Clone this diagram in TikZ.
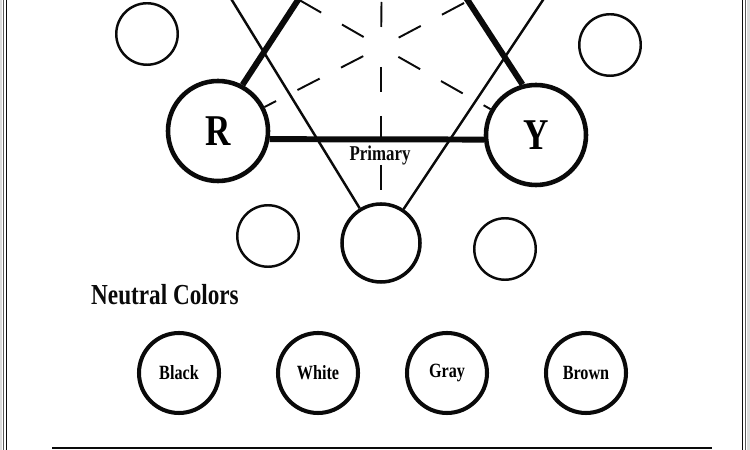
\documentclass[tikz,border=0pt]{standalone}
\usepackage{fontspec}
\usetikzlibrary{positioning,calc}
\newfontfamily\wheelfont{Liberation Serif}[FakeStretch=0.8]
\definecolor{cwInk}{HTML}{0a0a0a}
\definecolor{cwFrame}{HTML}{dcdcdc}
\definecolor{cwRule}{HTML}{5a5a5a}
\tikzset{
  x=0.2mm, y=-0.2mm,
  primary/.style={circle, draw=cwInk, line width=2.6pt, minimum size=20mm,
              inner sep=0pt, font=\wheelfont\bfseries\fontsize{25}{25}\selectfont},
  secondary/.style={circle, draw=cwInk, line width=2pt, minimum size=15.6mm, inner sep=0pt},
  tertiary/.style={circle, draw=cwInk, line width=1.4pt, minimum size=12.3mm, inner sep=0pt},
  neutral/.style={circle, draw=cwInk, line width=2.3pt, minimum size=16mm,
              inner sep=0pt, font=\wheelfont\bfseries\fontsize{11.5}{11.5}\selectfont},
  lbl/.style={font=\wheelfont\bfseries\fontsize{12}{12}\selectfont, text=cwInk},
  head/.style={font=\wheelfont\bfseries\fontsize{16.5}{16.5}\selectfont, text=cwInk},
  bond/.style={draw=cwInk, line width=3.4pt},
  link/.style={draw=cwInk, line width=1.4pt},
  spoke/.style={draw=cwInk, line width=1.1pt, dash pattern=on 5mm off 4.8mm, dash phase=5.8mm},
}
\begin{document}
\begin{tikzpicture}
  \useasboundingbox (0,0) rectangle (750,450);
  % page frame
  \fill[cwFrame] (0,0) rectangle (2,450);
  \draw[cwRule, line width=0.4pt] (3,0) -- (3,450);
  \draw[cwInk, line width=0.9pt] (6.5,0) -- (6.5,450);
  \draw[cwInk, line width=0.9pt] (742.5,0) -- (742.5,450);
  \draw[cwRule, line width=0.6pt] (745.5,0) -- (745.5,450);
  \fill[cwFrame] (747,0) rectangle (750,450);
  \clip (7,0) rectangle (742,450);

  % wheel
  \node[primary] (R) at (218,131) {R};
  \node[primary] (Y) at (536,135) {Y};
  \node[secondary] (O) at (381,243) {};
  \node[tertiary] (tl) at (147,34) {};
  \node[tertiary] (tr) at (610,45) {};
  \node[tertiary] (bl) at (268,236) {};
  \node[tertiary] (br) at (505,249) {};
  % vertices above the page
  \coordinate (B) at (383,-130);
  \coordinate (V) at (195,-60);
  \coordinate (G) at (583,-60);
  \coordinate (C) at (381,47);

  % spokes from the centre
  \foreach \t in {R,Y,O}
    \draw[spoke] (C) -- (\t);
  \foreach \t in {B,V,G}
    \draw[spoke] (C) -- (\t);

  % primary triangle
  \draw[bond] (R.-9) -- (Y.185);
  \draw[bond] (R.62) -- (B);
  \draw[bond] (Y.105) -- (B);
  % secondary triangle
  \draw[link] (V) -- (O);
  \draw[link] (G) -- (O);
  \node[lbl] (prim) at (380,155) {Primary};

  % neutrals
  \node[head] (neu) at (165,295) {Neutral Colors};
  \foreach \n/\x/\lab in {black/179/Black,white/318/White,gray/447/Gray,brown/586/Brown}
    \node[neutral] (\n) at (\x,373) {\lab};

  \draw[cwInk, line width=1.2pt] (52,448) -- (712,448);
\end{tikzpicture}
\end{document}
